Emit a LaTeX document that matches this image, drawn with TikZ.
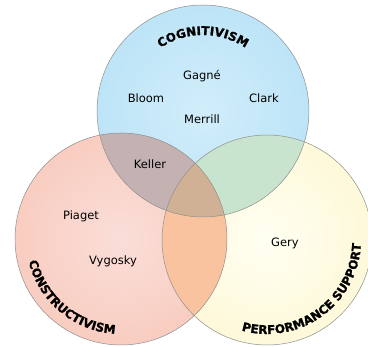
\documentclass[tikz,border=0pt]{standalone}
\usepackage{fontspec}
\setmainfont{DejaVu Sans}
\newfontfamily\arcff{DejaVu Sans Bold}[FakeBold=1.2]
\usetikzlibrary{decorations.text}
\definecolor{cBR}{HTML}{C4B2B3}
\definecolor{cBY}{HTML}{C8E3CE}
\definecolor{cRY}{HTML}{F9C3A0}
\definecolor{cALL}{HTML}{D0B196}
\definecolor{ringc}{HTML}{8E8E8E}
\pgfdeclareradialshading{sblue}{\pgfpoint{0bp}{0bp}}{rgb(0bp)=(0.82,0.93,0.98); rgb(50bp)=(0.66,0.86,0.96)}
\pgfdeclareradialshading{sred}{\pgfpoint{0bp}{0bp}}{rgb(0bp)=(0.98,0.87,0.85); rgb(50bp)=(0.97,0.74,0.66)}
\pgfdeclareradialshading{syellow}{\pgfpoint{0bp}{0bp}}{rgb(0bp)=(1.0,1.0,0.95); rgb(50bp)=(0.99,0.95,0.75)}
\newcommand\arcfont{\fontsize{12}{12}\arcff\selectfont}
\begin{document}
\begin{tikzpicture}[x=1pt,y=1pt,
  lbl/.style={font=\fontsize{11.5}{12}\selectfont, inner sep=0pt, text=black},
  ring/.style={draw=ringc, line width=0.5pt},
  arclabel/.style={decorate, decoration={text along path, text align=center, text={|\arcfont|#1}}}]
\useasboundingbox (0,0) rectangle (368,347);
\coordinate (B) at (203,236);
\coordinate (R) at (121,108);
\coordinate (Y) at (267,107);
% circles
\shade[shading=sblue] (B) circle[radius=106];
\shade[shading=sred] (R) circle[radius=106];
\shade[shading=syellow] (Y) circle[radius=105];
% overlaps
\begin{scope}\clip (B) circle[radius=106]; \fill[cBR] (R) circle[radius=106];\end{scope}
\begin{scope}\clip (B) circle[radius=106]; \fill[cBY] (Y) circle[radius=105];\end{scope}
\begin{scope}\clip (R) circle[radius=106]; \fill[cRY] (Y) circle[radius=105];\end{scope}
\begin{scope}\clip (B) circle[radius=106]; \clip (R) circle[radius=106]; \fill[cALL] (Y) circle[radius=105];\end{scope}
% outlines
\draw[ring] (B) circle[radius=106];
\draw[ring] (R) circle[radius=106];
\draw[ring] (Y) circle[radius=105];
% names
\node[lbl] (gagne) at (202,271) {Gagné};
\node[lbl] (bloom) at (146,249) {Bloom};
\node[lbl] (clark) at (264,249) {Clark};
\node[lbl] (merrill) at (202,228) {Merrill};
\node[lbl] (keller) at (150,183) {Keller};
\node[lbl] (piaget) at (81,131) {Piaget};
\node[lbl] (vygosky) at (113,86) {Vygosky};
\node[lbl] (gery) at (285,104) {Gery};
% curved titles
\path[arclabel=COGNITIVISM] ([shift={(124:76)}]B) arc[start angle=124, end angle=56, radius=76];
\path[arclabel=CONSTRUCTIVISM] ([shift={(188:95)}]R) arc[start angle=188, end angle=272, radius=95];
\path[arclabel=PERFORMANCE SUPPORT] ([shift={(250:94)}]Y) arc[start angle=250, end angle=362, radius=94];
\end{tikzpicture}
\end{document}
